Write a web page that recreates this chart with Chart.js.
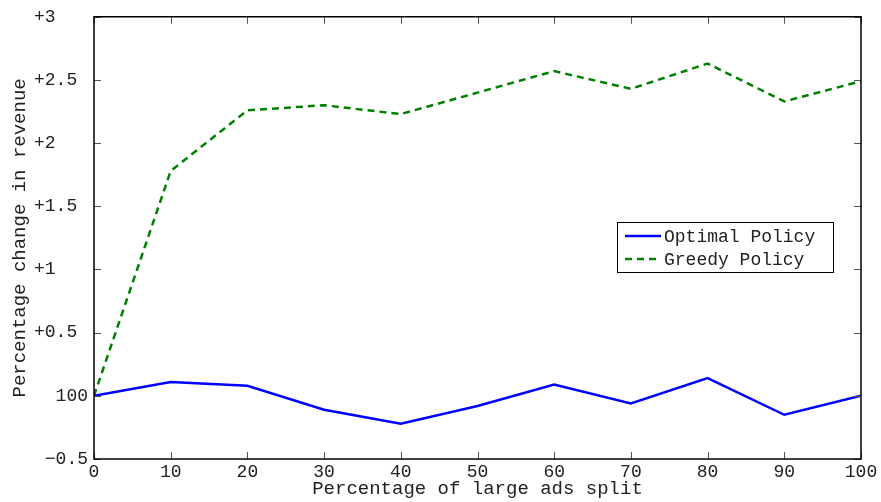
<!DOCTYPE html>
<html>
<head>
<meta charset="utf-8">
<script src="https://cdn.jsdelivr.net/npm/chart.js@4/dist/chart.umd.min.js"></script>
<style>
  html, body { margin: 0; padding: 0; background: #fff; }
  canvas { display: block; }
</style>
</head>
<body>
<canvas id="chart" width="881" height="502"></canvas>
<script>
// Share of large ads in the split (%)
const splitPct = [0, 10, 20, 30, 40, 50, 60, 70, 80, 90, 100];
// Change in revenue for each policy (percentage points)
const optimalPolicy = [0.00, 0.11, 0.08, -0.11, -0.22, -0.08, 0.09, -0.06, 0.14, -0.15, 0.00];
const greedyPolicy  = [0.00, 1.78, 2.26, 2.30, 2.23, 2.40, 2.57, 2.43, 2.63, 2.33, 2.49];
// Y axis tick values and their printed labels
const yTickValues = [-0.5, 0, 0.5, 1, 1.5, 2, 2.5, 3];
const yTickLabels = ['\u22120.5', '100', '+0.5', '+1', '+1.5', '+2', '+2.5', '+3'];
// X axis tick labels
const xTickLabels = ['0', '10', '20', '30', '40', '50', '60', '70', '80', '90', '100'];

const FONT = '"Liberation Mono", "DejaVu Sans Mono", monospace';
const TEXT = '#222';

// Inward tick marks on all four sides plus the black frame
const frameTicks = {
  id: 'frameTicks',
  afterDatasetsDraw(chart) {
    const { ctx, chartArea: a, scales: { x, y } } = chart;
    ctx.save();
    ctx.beginPath();
    ctx.strokeStyle = '#555';
    ctx.lineWidth = 1;
    const len = 7;
    x.ticks.forEach(t => {
      const px = Math.round(x.getPixelForValue(t.value)) + 0.5;
      ctx.moveTo(px, a.bottom); ctx.lineTo(px, a.bottom - len);
      ctx.moveTo(px, a.top); ctx.lineTo(px, a.top + len);
    });
    y.ticks.forEach(t => {
      const py = Math.round(y.getPixelForValue(t.value)) + 0.5;
      ctx.moveTo(a.left, py); ctx.lineTo(a.left + len, py);
      ctx.moveTo(a.right, py); ctx.lineTo(a.right - len, py);
    });
    ctx.stroke();
    ctx.beginPath();
    ctx.strokeStyle = '#000';
    ctx.lineWidth = 1.5;
    ctx.rect(a.left, a.top, a.right - a.left, a.bottom - a.top);
    ctx.stroke();
    ctx.restore();
  }
};

// Boxed legend placed inside the plot area
const boxLegend = {
  id: 'boxLegend',
  afterDraw(chart) {
    const { ctx } = chart;
    const bx = 617, by = 222, bw = 216, bh = 50;
    ctx.save();
    ctx.fillStyle = '#fff';
    ctx.fillRect(bx, by, bw, bh);
    ctx.strokeStyle = '#000';
    ctx.lineWidth = 1;
    ctx.strokeRect(bx + 0.5, by + 0.5, bw, bh);
    ctx.font = '18px ' + FONT;
    ctx.textBaseline = 'middle';
    ctx.textAlign = 'left';
    chart.data.datasets.forEach((ds, i) => {
      const ly = by + 14 + i * 23;
      ctx.beginPath();
      ctx.strokeStyle = ds.borderColor;
      ctx.lineWidth = ds.borderWidth;
      ctx.setLineDash(ds.borderDash || []);
      ctx.moveTo(bx + 8, ly);
      ctx.lineTo(bx + 44, ly);
      ctx.stroke();
      ctx.setLineDash([]);
      ctx.fillStyle = TEXT;
      ctx.fillText(ds.label, bx + 47, ly + 1);
    });
    ctx.restore();
  }
};

new Chart(document.getElementById('chart'), {
  type: 'line',
  data: {
    datasets: [
      {
        label: 'Optimal Policy',
        data: splitPct.map((x, i) => ({ x, y: optimalPolicy[i] })),
        borderColor: '#0000ff',
        borderWidth: 2.5,
        pointRadius: 0,
        tension: 0,
        fill: false
      },
      {
        label: 'Greedy Policy',
        data: splitPct.map((x, i) => ({ x, y: greedyPolicy[i] })),
        borderColor: '#008000',
        borderWidth: 2.5,
        borderDash: [7, 5],
        pointRadius: 0,
        tension: 0,
        fill: false
      }
    ]
  },
  options: {
    responsive: false,
    animation: false,
    layout: { padding: { top: 14, right: 20, left: 0, bottom: 0 } },
    plugins: {
      legend: { display: false },
      tooltip: { enabled: false }
    },
    scales: {
      x: {
        type: 'linear',
        min: 0,
        max: 100,
        afterFit: s => { s.height = 43; },
        afterBuildTicks: s => {
          s.ticks = xTickLabels.map(v => ({ value: Number(v) }));
        },
        ticks: {
          padding: 2,
          maxRotation: 0,
          autoSkip: false,
          color: TEXT,
          font: { family: FONT, size: 18 },
          callback: (v) => xTickLabels[xTickLabels.indexOf(String(v))]
        },
        grid: { display: false, drawTicks: false },
        border: { display: false },
        title: {
          display: true,
          text: 'Percentage of large ads split',
          color: TEXT,
          font: { family: FONT, size: 19, lineHeight: 1.2 },
          padding: { top: 0, bottom: 2 }
        }
      },
      y: {
        type: 'linear',
        min: -0.5,
        max: 3,
        afterFit: s => { s.width = 94; },
        afterBuildTicks: s => {
          s.ticks = yTickValues.map(v => ({ value: v }));
        },
        ticks: {
          padding: 6,
          color: TEXT,
          font: { family: FONT, size: 18 },
          callback: (v) => {
            const i = yTickValues.indexOf(v);
            const lab = yTickLabels[i];
            return lab.startsWith('+') ? lab.padEnd(5, ' ') : lab;
          }
        },
        grid: { display: false, drawTicks: false },
        border: { display: false },
        title: {
          display: true,
          text: 'Percentage change in revenue',
          color: TEXT,
          font: { family: FONT, size: 19, lineHeight: 1.2 },
          padding: { top: 9, bottom: 0 }
        }
      }
    }
  },
  plugins: [frameTicks, boxLegend]
});
</script>
</body>
</html>
